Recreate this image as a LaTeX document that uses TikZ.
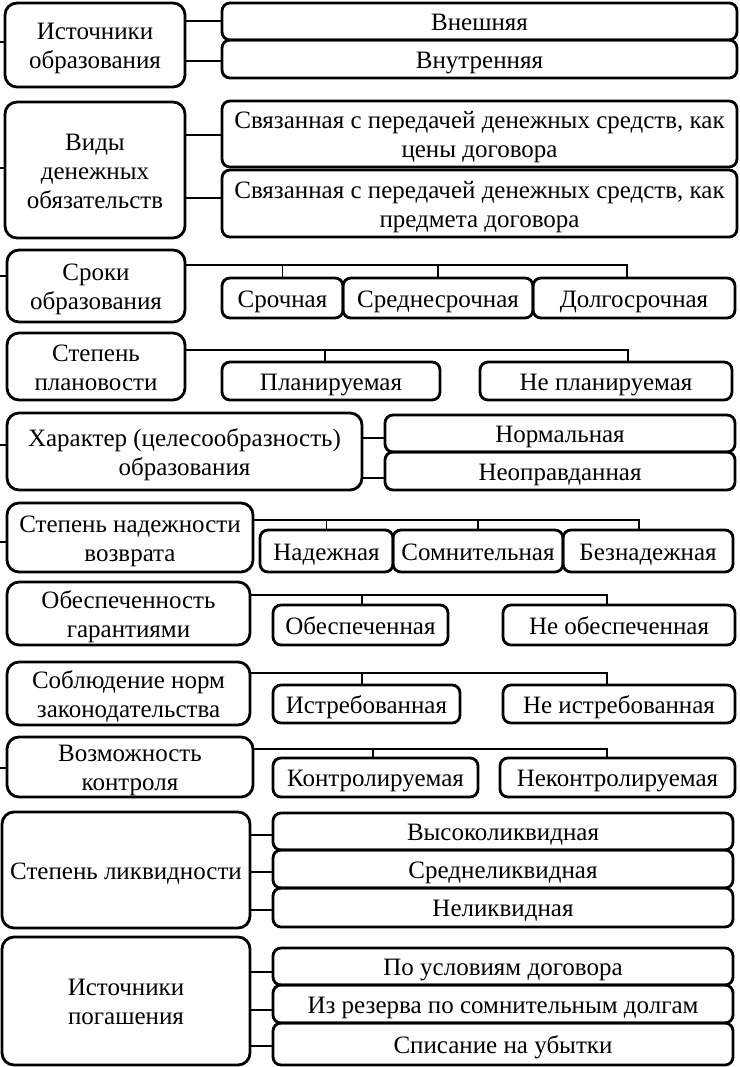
\documentclass[tikz,border=0pt]{standalone}
\usepackage{fontspec}
\setmainfont{Liberation Serif}
\newcommand{\mybox}[7]{\node[#2, minimum width={(#5-#3)*1pt}, minimum height={(#6-#4)*1pt}] (#1) at ({(#3+#5)/2},{(#4+#6)/2}) {};
  \node[txt] (#1t) at ([yshift=-3.5pt]#1.center) {\strut #7\strut};}
\newcommand{\sidecon}[3]{\draw[conn] (#1.east |- 0,#3) -- (#2.west |- 0,#3);}
\newcommand{\stubcon}[2]{\coordinate (st#1) at (0,#2); \draw[conn] (st#1) -- (st#1 -| #1.west);}
\begin{document}
\begin{tikzpicture}[x=1pt,y=-1pt,
  base/.style={draw, line width=2.8pt, inner sep=0pt},
  txt/.style={inner sep=0pt, align=center, font=\fontsize{25}{29}\selectfont},
  lbox/.style={base, rounded corners=12pt},
  rbox/.style={base, rounded corners=8pt},
  conn/.style={line width=1.3pt}]
\useasboundingbox (0,0) rectangle (739,1067);
% group 1
\mybox{L1}{lbox}{5}{3}{185}{87}{Источники\\образования}
\mybox{R1a}{rbox}{222}{3}{737}{40}{Внешняя}
\mybox{R1b}{rbox}{222}{40}{737}{78}{Внутренняя}
\sidecon{L1}{R1a}{21}
\sidecon{L1}{R1b}{61}
% group 2
\mybox{L2}{lbox}{5}{102}{185}{238}{Виды\\денежных\\обязательств}
\mybox{R2a}{rbox}{222}{101}{737}{167}{Связанная с передачей денежных средств, как\\цены договора}
\mybox{R2b}{rbox}{222}{170}{737}{237}{Связанная с передачей денежных средств, как\\предмета договора}
\sidecon{L2}{R2a}{135}
\sidecon{L2}{R2b}{198}
% group 3
\mybox{L3}{lbox}{7}{250}{185}{322}{Сроки\\образования}
\mybox{C3a}{rbox}{222}{278}{343}{318}{Срочная}
\mybox{C3b}{rbox}{343}{278}{533}{318}{Среднесрочная}
\mybox{C3c}{rbox}{533}{278}{735}{318}{Долгосрочная}
\coordinate (J3) at (627,265);
\draw[conn] (L3.east |- J3) -- (J3) -- (J3 |- C3c.north);
\draw[conn] (C3a.north) -- (C3a.north |- J3);
\draw[conn] (C3b.north) -- (C3b.north |- J3);
% group 4
\mybox{L4}{lbox}{7}{333}{185}{400}{Степень\\плановости}
\mybox{C4a}{rbox}{222}{362}{440}{400}{Планируемая}
\mybox{C4b}{rbox}{480}{362}{732}{400}{Не планируемая}
\coordinate (J4) at (628,350);
\coordinate (K4) at (325,350);
\draw[conn] (L4.east |- J4) -- (J4) -- (J4 |- C4b.north);
\draw[conn] (K4) -- (K4 |- C4a.north);
% group 5
\mybox{L5}{lbox}{7}{413}{362}{490}{Характер (целесообразность)\\образования}
\mybox{R5a}{rbox}{385}{415}{735}{452}{Нормальная}
\mybox{R5b}{rbox}{385}{452}{735}{490}{Неоправданная}
\sidecon{L5}{R5a}{438}
\sidecon{L5}{R5b}{478}
% group 6
\mybox{L6}{lbox}{7}{503}{253}{572}{Степень надежности\\возврата}
\mybox{C6a}{rbox}{260}{530}{393}{572}{Надежная}
\mybox{C6b}{rbox}{393}{530}{563}{572}{Сомнительная}
\mybox{C6c}{rbox}{563}{530}{733}{572}{Безнадежная}
\coordinate (J6) at (639,520);
\draw[conn] (L6.east |- J6) -- (J6) -- (J6 |- C6c.north);
\draw[conn] (C6a.north) -- (C6a.north |- J6);
\draw[conn] (C6b.north) -- (C6b.north |- J6);
% group 7
\mybox{L7}{lbox}{7}{582}{250}{645}{Обеспеченность\\гарантиями}
\mybox{C7a}{rbox}{273}{605}{448}{645}{Обеспеченная}
\mybox{C7b}{rbox}{503}{605}{735}{645}{Не обеспеченная}
\coordinate (J7) at (607,595);
\coordinate (K7) at (362,595);
\draw[conn] (L7.east |- J7) -- (J7) -- (J7 |- C7b.north);
\draw[conn] (K7) -- (K7 |- C7a.north);
% group 8
\mybox{L8}{lbox}{7}{662}{250}{725}{Соблюдение норм\\законодательства}
\mybox{C8a}{rbox}{273}{685}{460}{723}{Истребованная}
\mybox{C8b}{rbox}{503}{685}{735}{723}{Не истребованная}
\coordinate (J8) at (607,673);
\coordinate (K8) at (362,673);
\draw[conn] (L8.east |- J8) -- (J8) -- (J8 |- C8b.north);
\draw[conn] (K8) -- (K8 |- C8a.north);
% group 9
\mybox{L9}{lbox}{7}{737}{253}{797}{Возможность\\контроля}
\mybox{C9a}{rbox}{273}{758}{478}{797}{Контролируемая}
\mybox{C9b}{rbox}{500}{758}{735}{797}{Неконтролируемая}
\coordinate (J9) at (607,749);
\coordinate (K9) at (373,749);
\draw[conn] (L9.east |- J9) -- (J9) -- (J9 |- C9b.north);
\draw[conn] (K9) -- (K9 |- C9a.north);
% group 10
\mybox{L10}{lbox}{2}{812}{250}{928}{Степень ликвидности}
\mybox{R10a}{rbox}{273}{813}{733}{850}{Высоколиквидная}
\mybox{R10b}{rbox}{273}{850}{733}{888}{Среднеликвидная}
\mybox{R10c}{rbox}{273}{888}{733}{927}{Неликвидная}
\sidecon{L10}{R10a}{835}
\sidecon{L10}{R10b}{872}
\sidecon{L10}{R10c}{910}
% group 11
\mybox{L11}{lbox}{2}{937}{250}{1065}{Источники\\погашения}
\mybox{R11a}{rbox}{273}{948}{733}{985}{По условиям договора}
\mybox{R11b}{rbox}{273}{985}{733}{1023}{Из резерва по сомнительным долгам}
\mybox{R11c}{rbox}{273}{1023}{733}{1065}{Списание на убытки}
\sidecon{L11}{R11a}{972}
\sidecon{L11}{R11b}{1010}
\sidecon{L11}{R11c}{1046}
% left stubs
\stubcon{L1}{42}
\stubcon{L2}{168}
\stubcon{L3}{276}
\stubcon{L5}{445}
\stubcon{L6}{542}
\stubcon{L9}{768}
\end{tikzpicture}
\end{document}
